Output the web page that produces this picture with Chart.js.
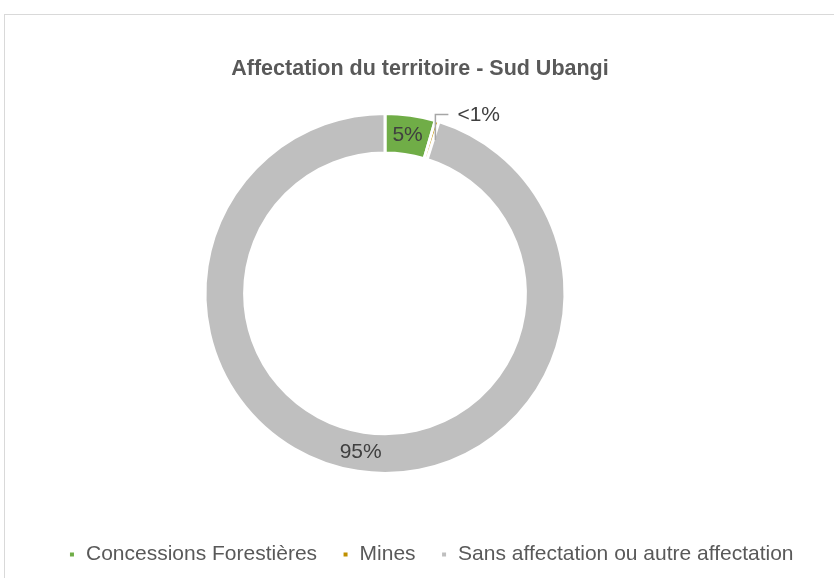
<!DOCTYPE html>
<html>
<head>
<meta charset="utf-8">
<script src="https://cdn.jsdelivr.net/npm/chart.js@4.4.1/dist/chart.umd.min.js"></script>
<style>
  html, body { margin: 0; padding: 0; background: #fff; overflow: hidden; }
  #frame {
    position: absolute;
    left: 4px;
    top: 14px;
    border: 1px solid #d9d9d9;
    width: 836px;
    height: 582px;
  }
  canvas { display: block; }
</style>
</head>
<body>
<div id="frame">
  <canvas id="donut" width="836" height="560"></canvas>
</div>
<script>
const categories = ['Concessions Forestières', 'Mines', 'Sans affectation ou autre affectation'];
const shares = [4.5, 0.35, 95.15];
const sliceColors = ['#70AD47', '#BF9000', '#BFBFBF'];

const chartTitle = 'Affectation du territoire - Sud Ubangi';
const fontFamily = '"Liberation Sans", Arial, sans-serif';

// Excel puts the ring left of the title centre, and the legend a bit right
const ringOffset = { x: -35, y: -7 };
const legendShiftX = 11;

function pctLabel(value, total) {
  const p = value / total * 100;
  if (p < 1) return '<1%';
  return Math.round(p) + '%';
}

const offsetBoxes = {
  id: 'offsetBoxes',
  afterLayout(chart) {
    chart.chartArea.left += ringOffset.x;
    chart.chartArea.right += ringOffset.x;
    chart.chartArea.top += ringOffset.y;
    chart.chartArea.bottom += ringOffset.y;
    if (chart.legend) {
      chart.legend.left += legendShiftX;
      chart.legend.right += legendShiftX;
    }
  }
};

const sliceLabels = {
  id: 'sliceLabels',
  afterDatasetsDraw(chart) {
    const ctx = chart.ctx;
    const meta = chart.getDatasetMeta(0);
    const data = chart.data.datasets[0].data;
    const total = data.reduce((a, b) => a + b, 0);

    ctx.save();
    ctx.font = '21px ' + fontFamily;
    ctx.fillStyle = '#404040';
    ctx.textBaseline = 'middle';

    meta.data.forEach((arc, i) => {
      const txt = pctLabel(data[i], total);
      const pos = arc.tooltipPosition();
      if (data[i] / total * 100 < 1) {
        // tiny slice: label outside with a leader line
        const topY = arc.y - arc.outerRadius + 1;
        ctx.strokeStyle = '#a6a6a6';
        ctx.lineWidth = 1.5;
        ctx.beginPath();
        ctx.moveTo(pos.x + 4, pos.y);
        ctx.lineTo(pos.x + 4, topY);
        ctx.lineTo(pos.x + 17, topY);
        ctx.stroke();
        ctx.textAlign = 'left';
        ctx.fillText(txt, pos.x + 26, topY + 1);
      } else {
        ctx.textAlign = 'center';
        ctx.fillText(txt, pos.x, pos.y);
      }
    });
    ctx.restore();
  }
};

new Chart(document.getElementById('donut'), {
  type: 'doughnut',
  data: {
    labels: categories,
    datasets: [{
      data: shares,
      backgroundColor: sliceColors,
      borderColor: '#ffffff',
      borderWidth: 3
    }]
  },
  options: {
    responsive: false,
    animation: false,
    radius: 180,
    cutout: '78%',
    layout: { padding: { right: 6 } },
    plugins: {
      title: {
        display: true,
        text: chartTitle,
        color: '#595959',
        font: { family: fontFamily, size: 21.5, weight: 'bold' },
        padding: { top: 41, bottom: 0 }
      },
      legend: {
        position: 'bottom',
        labels: {
          color: '#595959',
          font: { family: fontFamily, size: 21 },
          boxWidth: 7,
          boxHeight: 7,
          padding: 25
        }
      },
      tooltip: { enabled: false }
    }
  },
  plugins: [offsetBoxes, sliceLabels]
});
</script>
</body>
</html>
